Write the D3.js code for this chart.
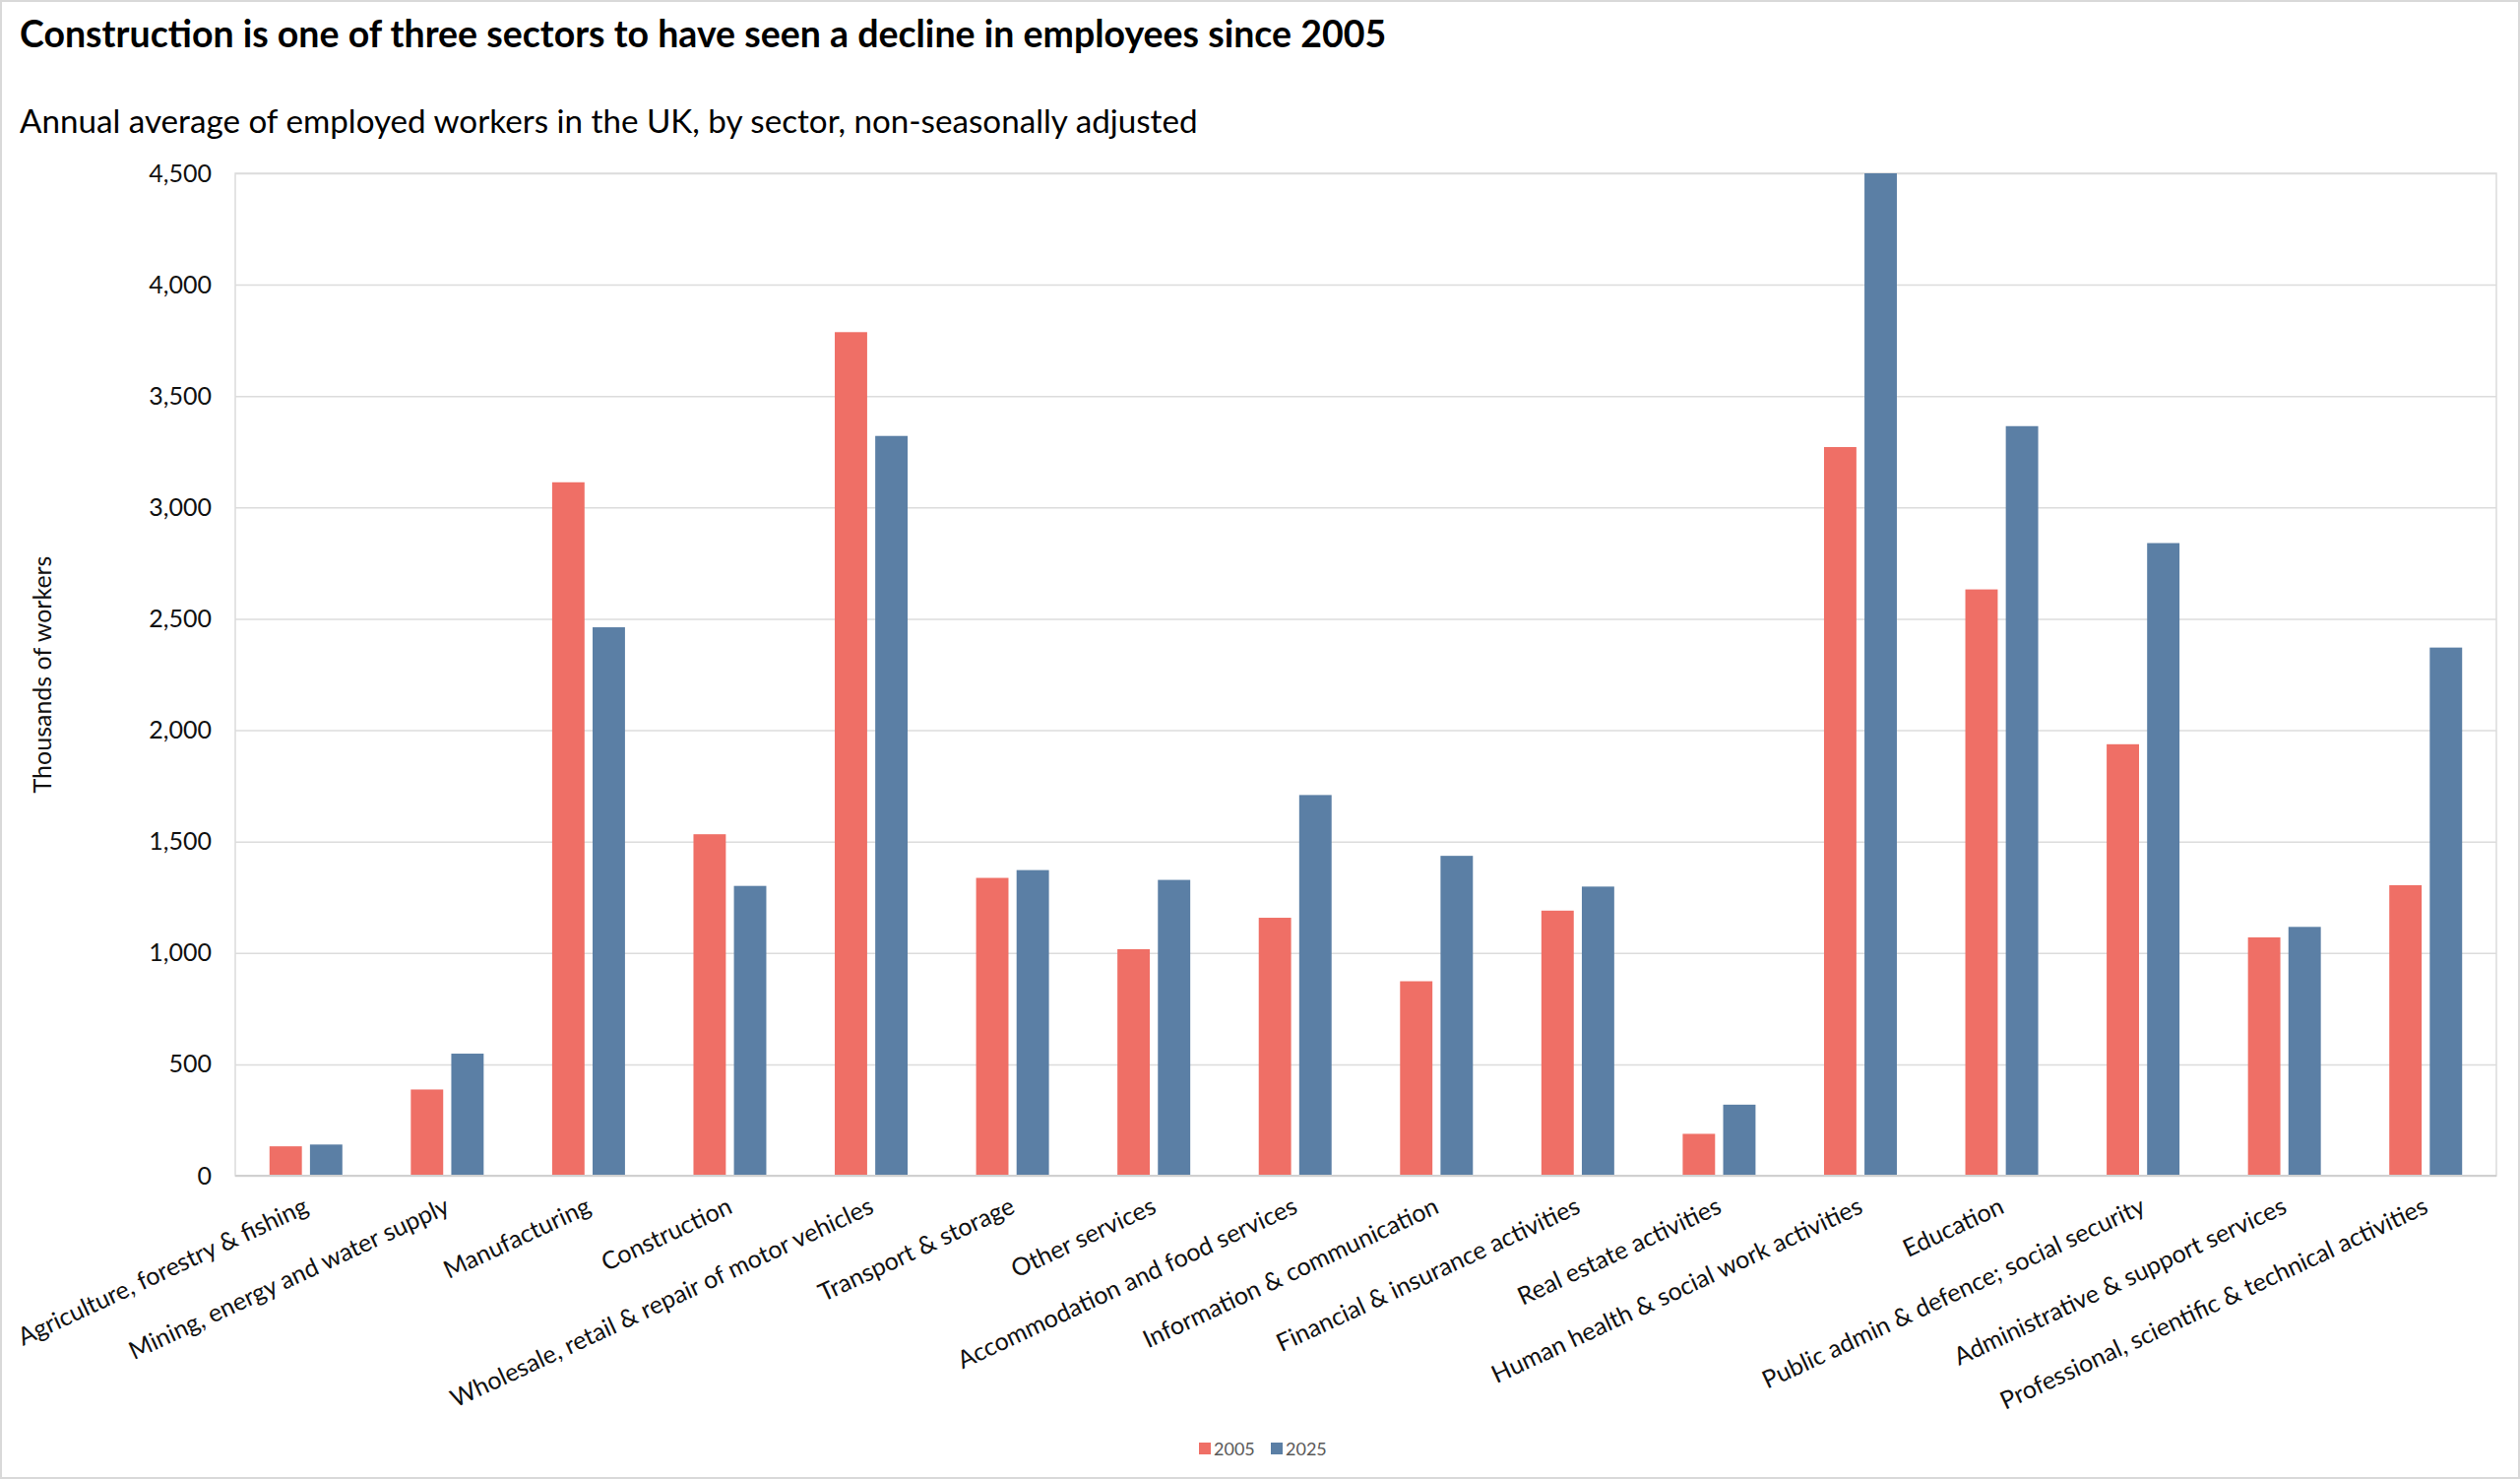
<!DOCTYPE html>
<html>
<head>
<meta charset="utf-8">
<script src="https://cdn.jsdelivr.net/npm/d3@7/dist/d3.min.js"></script>
<style>
  html, body { margin: 0; padding: 0; background: #fff; }
  svg { display: block; font-family: Lato, "Noto Sans", sans-serif; }
</style>
</head>
<body>
<svg id="chart" width="2560" height="1502"></svg>
<script>
const categories = [
  "Agriculture, forestry & fishing",
  "Mining, energy and water supply",
  "Manufacturing",
  "Construction",
  "Wholesale, retail & repair of motor vehicles",
  "Transport & storage",
  "Other services",
  "Accommodation and food services",
  "Information & communication",
  "Financial & insurance activities",
  "Real estate activities",
  "Human health & social work activities",
  "Education",
  "Public admin & defence; social security",
  "Administrative & support services",
  "Professional, scientific & technical activities"
];
const seriesNames = ["2005", "2025"];
const values2005 = [132, 387, 3113, 1533, 3787, 1337, 1017, 1158, 873, 1190, 188, 3271, 2632, 1937, 1070, 1304];
const values2025 = [140, 548, 2462, 1301, 3321, 1372, 1328, 1709, 1436, 1298, 319, 4500, 3365, 2840, 1117, 2371];
const yTicks = [0, 500, 1000, 1500, 2000, 2500, 3000, 3500, 4000, 4500];
const seriesColors = ["#ef6f66", "#5b7fa5"];

const titleText = "Construction is one of three sectors to have seen a decline in employees since 2005";
const subtitleText = "Annual average of employed workers in the UK, by sector, non-seasonally adjusted";
const yTitle = "Thousands of workers";

const W = 2560, H = 1502;
const plot = { left: 239, right: 2536, top: 176, bottom: 1194 };

const svg = d3.select("#chart");

// outer border
svg.append("rect").attr("x", 1).attr("y", 1).attr("width", W - 2).attr("height", H - 2)
  .attr("fill", "#fff").attr("stroke", "#d9d9d9").attr("stroke-width", 2);

// titles
svg.append("text").attr("x", 20).attr("y", 48)
  .attr("font-size", 37.5).attr("font-weight", 700).attr("fill", "#000")
  .text(titleText);
svg.append("text").attr("x", 20).attr("y", 135)
  .attr("font-size", 33.2).attr("fill", "#000")
  .text(subtitleText);

const data = categories.map((c, i) => ({ cat: c, vals: [values2005[i], values2025[i]] }));

const x0 = d3.scaleBand().domain(categories).range([plot.left, plot.right]).paddingInner(0).paddingOuter(0);
const groupW = 74;
const x1 = d3.scaleBand().domain(seriesNames)
  .range([x0.bandwidth() / 2 - groupW / 2, x0.bandwidth() / 2 + groupW / 2])
  .paddingInner(0.2).paddingOuter(0);
const y = d3.scaleLinear().domain([0, 4500]).range([plot.bottom, plot.top]).clamp(true);

// gridlines
const grid = svg.append("g").attr("transform", `translate(${plot.left},0)`)
  .call(d3.axisLeft(y).tickValues(yTicks).tickSize(-(plot.right - plot.left)).tickFormat(""));
grid.select(".domain").remove();
grid.selectAll("line").attr("stroke", "#dcdcdc").attr("stroke-width", 1.5);

// plot border
svg.append("rect").attr("x", plot.left).attr("y", plot.top)
  .attr("width", plot.right - plot.left).attr("height", plot.bottom - plot.top)
  .attr("fill", "none").attr("stroke", "#dcdcdc").attr("stroke-width", 1.5);

// bars
const groups = svg.append("g").selectAll("g").data(data).join("g")
  .attr("transform", d => `translate(${x0(d.cat)},0)`);
groups.selectAll("rect").data(d => d.vals.map((v, j) => ({ v, s: seriesNames[j], j })))
  .join("rect")
  .attr("x", d => x1(d.s))
  .attr("width", x1.bandwidth())
  .attr("y", d => y(d.v))
  .attr("height", d => y(0) - y(d.v))
  .attr("fill", d => seriesColors[d.j]);

// baseline
svg.append("line").attr("x1", plot.left).attr("x2", plot.right)
  .attr("y1", plot.bottom).attr("y2", plot.bottom)
  .attr("stroke", "#d0d0d0").attr("stroke-width", 2);

// y axis labels
const yAxis = svg.append("g").attr("transform", `translate(${plot.left},0)`)
  .call(d3.axisLeft(y).tickValues(yTicks).tickFormat(d3.format(",")).tickSize(0).tickPadding(24));
yAxis.select(".domain").remove();
yAxis.selectAll("text").attr("font-size", 25).attr("fill", "#111").attr("font-family", "Lato");

// x axis labels
const xAxis = svg.append("g").attr("transform", `translate(0,${plot.bottom})`)
  .call(d3.axisBottom(x0).tickSize(0).tickPadding(0));
xAxis.select(".domain").remove();
xAxis.selectAll("text")
  .attr("font-size", 25).attr("fill", "#111").attr("font-family", "Lato")
  .attr("text-anchor", "end")
  .attr("dy", "0.75em")
  .attr("transform", "translate(-4,20) rotate(-25)");

// y title
svg.append("text").attr("transform", `translate(52,${(plot.top + plot.bottom) / 2}) rotate(-90)`)
  .attr("text-anchor", "middle").attr("font-size", 25).attr("fill", "#111")
  .text(yTitle);

// legend
const legend = svg.append("g");
const legendX = [1218, 1291];
seriesNames.forEach((s, i) => {
  legend.append("rect").attr("x", legendX[i]).attr("y", 1465).attr("width", 12).attr("height", 12)
    .attr("fill", seriesColors[i]);
  legend.append("text").attr("x", legendX[i] + 15).attr("y", 1478)
    .attr("font-size", 18).attr("fill", "#595959").text(s);
});
</script>
</body>
</html>
